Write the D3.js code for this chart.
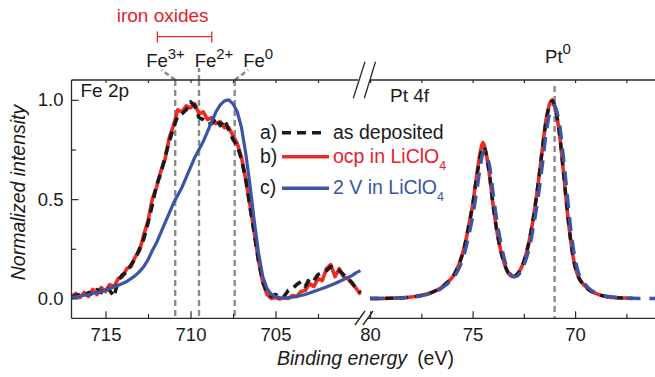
<!DOCTYPE html>
<html><head><meta charset="utf-8">
<script src="https://cdn.jsdelivr.net/npm/d3@7"></script>
<style>
html,body{margin:0;padding:0;background:#fff;}
svg{display:block;font-family:"Liberation Sans",Arial,Helvetica,sans-serif;}
</style>
</head><body>
<svg id="chart" width="655" height="377"></svg>
<script>
// ---------------- DATA ----------------
// Fe 2p region (binding energy, eV)
const feEnergy = [717,716.75,716.5,716.25,716,715.75,715.5,715.25,715,714.75,714.5,714.25,714,713.75,713.5,713.25,713,712.75,712.5,712.25,712,711.75,711.5,711.25,711,710.75,710.5,710.25,710,709.75,709.5,709.25,709,708.75,708.5,708.25,708,707.75,707.5,707.25,707,706.75,706.5,706.25,706,705.75,705.5,705.25,705,704.75,704.5,704.25,704,703.75,703.5,703.25,703,702.75,702.5,702.25,702,701.75,701.5,701.25,701,700.75,700.5,700.25,700];
const feAsDeposited = [0.005,0.015,0.02,0.01,0.03,0.02,0.045,0.03,0.06,0.04,0.01,0.09,0.12,0.13,0.17,0.2,0.25,0.3,0.38,0.47,0.57,0.63,0.71,0.79,0.86,0.92,0.93,0.95,0.99,0.97,0.91,0.9,0.88,0.88,0.91,0.87,0.9,0.85,0.8,0.77,0.7,0.6,0.46,0.33,0.19,0.085,0.03,0.01,0.02,0.005,0.01,0.04,0.05,0.07,0.085,0.06,0.1,0.09,0.12,0.13,0.14,0.16,0.15,0.14,0.12,0.1,0.08,0.05,0.03];
const feOcp = [0.01,0.025,0.005,0.03,0.01,0.045,0.02,0.055,0.035,0.07,0.06,0.1,0.11,0.15,0.16,0.21,0.24,0.32,0.39,0.5,0.56,0.64,0.7,0.81,0.87,0.95,0.94,0.97,0.96,0.98,0.93,0.94,0.9,0.91,0.88,0.89,0.86,0.86,0.82,0.78,0.71,0.6,0.47,0.33,0.19,0.08,0.02,0,0.005,-0.003,0.004,0,0.015,0.01,0.035,0.04,0.075,0.06,0.1,0.09,0.15,0.17,0.11,0.15,0.11,0.1,0.075,0.05,0.02];
const fe2V = [0.005,0.008,0.012,0.016,0.02,0.025,0.03,0.035,0.042,0.05,0.058,0.066,0.075,0.085,0.1,0.115,0.135,0.16,0.195,0.24,0.28,0.33,0.38,0.43,0.48,0.52,0.56,0.61,0.66,0.71,0.75,0.79,0.84,0.89,0.94,0.975,0.995,1,0.98,0.94,0.86,0.73,0.57,0.39,0.23,0.11,0.05,0.02,0.008,0.004,0.003,0.004,0.006,0.01,0.015,0.02,0.027,0.035,0.043,0.05,0.058,0.066,0.075,0.085,0.095,0.105,0.115,0.13,0.14];

// Pt 4f region
const ptEnergy = [80,79.5,79,78.5,78,77.5,77,76.6,76.3,76,75.8,75.6,75.4,75.2,75,74.8,74.6,74.5,74.4,74.2,74,73.8,73.6,73.4,73.2,73,72.8,72.6,72.4,72.2,72,71.8,71.6,71.4,71.2,71.1,71,70.8,70.6,70.4,70.2,70,69.8,69.5,69.2,68.8,68.4,68,67.6,67.2];
const ptOcp = [0,0,0.001,0.003,0.007,0.015,0.03,0.05,0.075,0.105,0.14,0.19,0.26,0.36,0.47,0.62,0.75,0.785,0.76,0.64,0.47,0.33,0.23,0.16,0.12,0.11,0.125,0.16,0.22,0.31,0.43,0.58,0.75,0.91,0.99,1,0.97,0.86,0.67,0.46,0.28,0.16,0.1,0.06,0.035,0.018,0.008,0.004,0.002,0];
const ptAsDeposited = [0,0,0.001,0.003,0.007,0.015,0.03,0.05,0.075,0.105,0.14,0.19,0.26,0.36,0.47,0.61,0.73,0.765,0.75,0.64,0.47,0.33,0.23,0.16,0.12,0.11,0.125,0.16,0.22,0.31,0.43,0.58,0.75,0.9,0.985,0.995,0.97,0.86,0.67,0.46,0.28,0.16,0.1,0.06,0.035,0.018,0.008,0.004,0.002,0];
const pt2VEnergy = [80,79.5,79,78.5,78,77.5,77,76.6,76.3,76,75.8,75.6,75.4,75.2,75,74.8,74.6,74.5,74.4,74.2,74,73.8,73.6,73.4,73.2,73,72.8,72.6,72.4,72.2,72,71.8,71.6,71.4,71.2,71.1,71,70.8,70.6,70.4,70.2,70,69.8,69.5,69.2,68.8,68.4,68,67.6,67.2,66.8,66.4,66];
const pt2V = [0,0,0.001,0.003,0.006,0.013,0.027,0.045,0.068,0.095,0.125,0.165,0.225,0.31,0.41,0.54,0.68,0.73,0.74,0.68,0.53,0.38,0.27,0.18,0.13,0.11,0.115,0.145,0.195,0.27,0.38,0.51,0.67,0.84,0.95,0.97,0.97,0.9,0.74,0.54,0.34,0.2,0.12,0.07,0.04,0.02,0.01,0.005,0.003,0.001,0,0,0];

// Axes
const feTicksMajor = [715,710,705];
const feTicksMinor = [712.5,707.5,702.5];
const ptTicksMajor = [80,75,70];
const ptTicksMinor = [77.5,72.5,67.5];
const yTicksMajor = [0,0.5,1.0];
const yTicksMinor = [0.25,0.75];

// Reference energies
const feStateEnergy = [710.9,709.5,707.4];
const feStateSup = ["3+","2+","0"];
const ptStateEnergy = [71.0];
const ptStateSup = ["0"];
const ironOxideRange = [711.95,708.75];

// Legend
const legendKeys = ["a)","b)","c)"];
const legendNames = ["as deposited","ocp in LiClO","2 V in LiClO"];
const legendSubs = ["","4","4"];

// ---------------- DRAW ----------------
const svg = d3.select("#chart");
const RED = "#ee2a24", BLUE = "#3a55a6", BLACK = "#1a1a1a", GRAY = "#8a8a8a", AX = "#2a2a2a";
const FS = 18.5, FL = 19.5;

const plotTop = 80, plotBottom = 318.3;
const xFe = d3.scaleLinear().domain([717,700]).range([71.5,360.5]);
const xPt = d3.scaleLinear().domain([80.2,66]).range([366,657.1]);
const y = d3.scaleLinear().domain([-0.1,1.1]).range([plotBottom,plotTop]);

// reference dashed lines
const gRef = svg.append("g").attr("stroke",GRAY).attr("stroke-width",2.4).attr("stroke-dasharray","6,4").attr("fill","none");
feStateEnergy.forEach((e,i)=>{
  const x = xFe(e);
  gRef.append("line").attr("x1",x).attr("x2",x).attr("y1",plotTop).attr("y2",plotBottom);
  const dx = [-13.5,0,13.5][i], ty = [70,68,70][i];
  gRef.append("line").attr("x1",x).attr("y1",plotTop).attr("x2",x+dx).attr("y2",ty).attr("stroke-dasharray","5,3");
});
ptStateEnergy.forEach(e=>{
  const x = xPt(e);
  gRef.append("line").attr("x1",x).attr("x2",x).attr("y1",86).attr("y2",plotBottom);
});

// curves
const lineFe = d3.line().x(d=>xFe(d[0])).y(d=>y(d[1]));
const linePt = d3.line().x(d=>xPt(d[0])).y(d=>y(d[1])).curve(d3.curveCatmullRom);
const zip = (a,b)=>a.map((v,i)=>[v,b[i]]);

const gData = svg.append("g").attr("fill","none").attr("stroke-linejoin","round");
gData.append("path").attr("d",lineFe(zip(feEnergy,feOcp))).attr("stroke",RED).attr("stroke-width",3.6);
gData.append("path").attr("d",lineFe(zip(feEnergy,feAsDeposited))).attr("stroke",BLACK).attr("stroke-width",3.6).attr("stroke-dasharray","9,6");
gData.append("path").attr("d",lineFe(zip(feEnergy,fe2V))).attr("stroke",BLUE).attr("stroke-width",3.2);

gData.append("path").attr("d",linePt(zip(ptEnergy,ptOcp))).attr("stroke",RED).attr("stroke-width",3.6);
gData.append("path").attr("d",linePt(zip(ptEnergy,ptAsDeposited))).attr("stroke",BLACK).attr("stroke-width",3.4).attr("stroke-dasharray","8,7");
gData.append("path").attr("d",linePt(zip(pt2VEnergy,pt2V))).attr("stroke",BLUE).attr("stroke-width",3.4).attr("stroke-dasharray","14,9");

// axes
function styleAxis(g){
  g.select(".domain").remove();
  g.selectAll("line").attr("stroke",AX).attr("stroke-width",1.2);
  g.selectAll("text").attr("font-size",FS).attr("fill","#1a1a1a").attr("font-family",'"Liberation Sans",Arial,sans-serif');
}
const fmtE = d3.format("d");
svg.append("g").attr("transform",`translate(0,${plotBottom})`)
  .call(d3.axisBottom(xFe).tickValues(feTicksMajor).tickSize(-7).tickPadding(10).tickFormat(fmtE)).call(styleAxis);
svg.append("g").attr("transform",`translate(0,${plotBottom})`)
  .call(d3.axisBottom(xFe).tickValues(feTicksMinor).tickSize(-4.5).tickFormat("")).call(styleAxis);
svg.append("g").attr("transform",`translate(0,${plotBottom})`)
  .call(d3.axisBottom(xPt).tickValues(ptTicksMajor).tickSize(-7).tickPadding(10).tickFormat(fmtE)).call(styleAxis);
svg.append("g").attr("transform",`translate(0,${plotBottom})`)
  .call(d3.axisBottom(xPt).tickValues(ptTicksMinor).tickSize(-4.5).tickFormat("")).call(styleAxis);
svg.append("g").attr("transform",`translate(0,${plotTop})`)
  .call(d3.axisTop(xFe).tickValues(feTicksMajor.concat(feTicksMinor)).tickSize(-3).tickFormat("")).call(styleAxis);
svg.append("g").attr("transform",`translate(0,${plotTop})`)
  .call(d3.axisTop(xPt).tickValues(ptTicksMajor.concat(ptTicksMinor)).tickSize(-3).tickFormat("")).call(styleAxis);
svg.append("g").attr("transform",`translate(71.5,0)`)
  .call(d3.axisLeft(y).tickValues(yTicksMajor).tickSize(-7).tickPadding(8).tickFormat(d3.format(".1f"))).call(styleAxis);
svg.append("g").attr("transform",`translate(71.5,0)`)
  .call(d3.axisLeft(y).tickValues(yTicksMinor).tickSize(-4.5).tickFormat("")).call(styleAxis);

// frame with breaks
const gF = svg.append("g").attr("stroke",AX).attr("stroke-width",1.3).attr("fill","none");
gF.append("line").attr("x1",71.5).attr("x2",71.5).attr("y1",plotTop).attr("y2",plotBottom);
gF.append("line").attr("x1",71.5).attr("x2",359).attr("y1",plotBottom).attr("y2",plotBottom);
gF.append("line").attr("x1",368).attr("x2",657).attr("y1",plotBottom).attr("y2",plotBottom);
gF.append("line").attr("x1",71.5).attr("x2",358).attr("y1",plotTop).attr("y2",plotTop);
gF.append("line").attr("x1",370).attr("x2",657).attr("y1",plotTop).attr("y2",plotTop);
gF.append("line").attr("x1",657).attr("x2",657).attr("y1",plotTop).attr("y2",plotBottom);
// break marks
[[355,325,365,311],[363,325,373,311],[353.3,98.3,365,61.7],[364.3,98.3,375.5,61.7]].forEach(s=>{
  gF.append("line").attr("x1",s[0]).attr("y1",s[1]).attr("x2",s[2]).attr("y2",s[3]);
});

// labels
const txt = (x,yy,s,opts={})=>{
  const t = svg.append("text").attr("x",x).attr("y",yy).attr("font-size",opts.fs||FL).attr("fill",opts.fill||"#1a1a1a");
  if(opts.anchor) t.attr("text-anchor",opts.anchor);
  if(s) t.text(s);
  return t;
};
txt(80.5,97,"Fe 2p",{fs:19});
txt(390,101.7,"Pt 4f",{fs:19});

// state labels
const feLabelDx = [-29,-4.3,8.5];
feStateEnergy.forEach((e,i)=>{
  const t = txt(xFe(e)+feLabelDx[i],66.7,null,{fs:18.5});
  t.append("tspan").text("Fe");
  t.append("tspan").attr("dy",-8).attr("font-size",15).text(feStateSup[i]);
});
ptStateEnergy.forEach((e,i)=>{
  const t = txt(xPt(e)-9.5,62.7,null,{fs:18.5});
  t.append("tspan").text("Pt");
  t.append("tspan").attr("dy",-9).attr("font-size",15).text(ptStateSup[i]);
});

// iron oxides bracket
const bx1 = xFe(ironOxideRange[0]), bx2 = xFe(ironOxideRange[1]);
const gB = svg.append("g").attr("stroke",RED).attr("stroke-width",1.3);
gB.append("line").attr("x1",bx1).attr("x2",bx2).attr("y1",36.7).attr("y2",36.7);
gB.append("line").attr("x1",bx1).attr("x2",bx1).attr("y1",31.5).attr("y2",42.5);
gB.append("line").attr("x1",bx2).attr("x2",bx2).attr("y1",31.5).attr("y2",42.5);
txt(116.7,22,"iron oxides",{fill:"#e8202a",fs:19});

// axis titles
svg.append("text").attr("transform","translate(25,192.5) rotate(-90)").attr("text-anchor","middle")
  .attr("font-size",FL).attr("font-style","italic").attr("fill","#1a1a1a").text("Normalized intensity");
const xt = svg.append("text").attr("x",365.5).attr("y",365).attr("text-anchor","middle").attr("font-size",FL).attr("fill","#1a1a1a");
xt.append("tspan").attr("font-style","italic").text("Binding energy");
xt.append("tspan").attr("dx",10).text("(eV)");

// legend
const legY = [138.7,163,194];
const legLineY = [132.7,156.7,188.3];
const legColors = [BLACK,RED,BLUE];
const legTextColors = ["#1a1a1a","#e8202a",BLUE];
const legDash = ["9,6",null,null];
const legEnd = [321,329,329];
legendKeys.forEach((k,i)=>{
  txt(260,legY[i],k);
  const l = svg.append("line").attr("x1",282).attr("x2",legEnd[i]).attr("y1",legLineY[i]).attr("y2",legLineY[i])
    .attr("stroke",legColors[i]).attr("stroke-width",3.6);
  if(legDash[i]) l.attr("stroke-dasharray",legDash[i]);
  const t = txt(333,legY[i],null,{fill:legTextColors[i]});
  t.append("tspan").text(legendNames[i]);
  if(legendSubs[i]) t.append("tspan").attr("dy",7).attr("font-size",12.5).text(legendSubs[i]);
});
</script>
</body></html>
